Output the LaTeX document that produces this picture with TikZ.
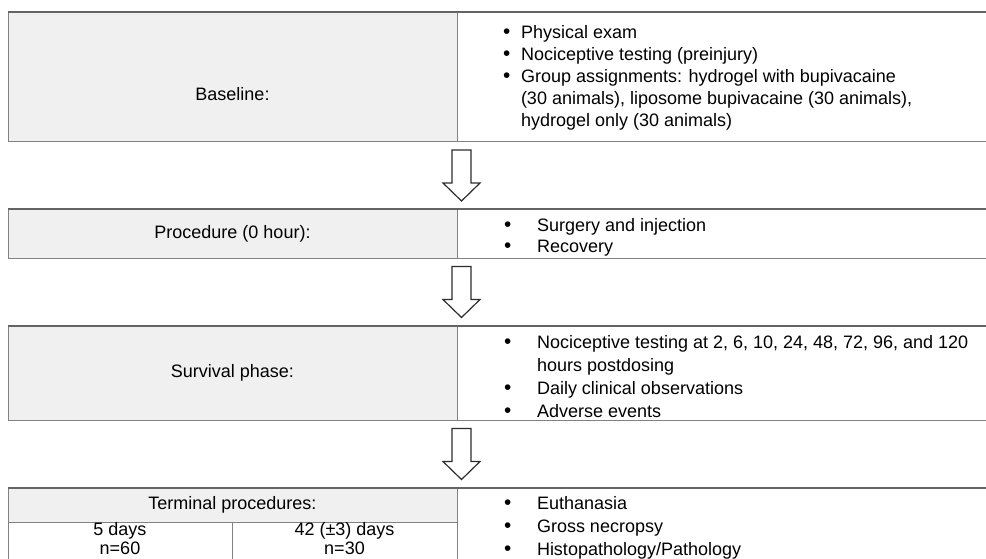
\documentclass[tikz,border=0pt]{standalone}
\usepackage{fontspec}
\setmainfont{Liberation Sans}
\usetikzlibrary{positioning,calc}
\definecolor{rulegray}{RGB}{130,130,130}
\definecolor{topgray}{RGB}{100,100,100}
\definecolor{cellgray}{RGB}{240,240,240}
\definecolor{arrowgray}{RGB}{45,45,45}
\newcommand{\dotitem}{\scalebox{1.15}{\textbullet}}

\begin{document}
\begin{tikzpicture}[x=1pt,y=-1pt,every node/.style={font=\fontsize{18}{22}\selectfont, inner sep=0pt, outer sep=0pt},cell/.style={draw=rulegray, line width=1pt, anchor=north west},phase/.style={cell, fill=cellgray, minimum width=449},steps/.style={cell, fill=white, minimum width=540},items/.style={anchor=north west, align=left},toprule/.style={draw=topgray, line width=1.4pt},openarrow/.pic={\draw[arrowgray, line width=1.2pt, fill=white, line join=miter] (-9.5,-25.5) -- (9.5,-25.5) -- (9.5,7.5) -- (18.5,7.5) -- (0,25.5) -- (-18.5,7.5) -- (-9.5,7.5) -- cycle;}]
\clip (0,0) rectangle (986,559);
\node[phase, minimum height=130] (baseL) at (8,12) {};
\node[steps, minimum height=130] (baseR) at (baseL.north east) {};
\draw[toprule] (baseL.north west) -- (baseR.north east);
\node (baseT) at (232.5,94) {Baseline:};
\node[items] (baseI) at (503,23) {\begin{tabular}{@{}p{18pt}@{}l@{}}
\dotitem & Physical exam\\
\dotitem & Nociceptive testing (preinjury)\\
\dotitem & Group assignments: hydrogel with bupivacaine\\
 & (30 animals), liposome bupivacaine (30 animals),\\
 & hydrogel only (30 animals)
\end{tabular}};
\node[phase, minimum height=49] (procL) at (8,209) {Procedure (0 hour):};
\node[steps, minimum height=49] (procR) at (procL.north east) {};
\draw[toprule] (procL.north west) -- (procR.north east);
\node[items, font=\fontsize{18}{20}\selectfont] (procI) at (504,218) {\begin{tabular}{@{}p{33pt}@{}l@{}}
\dotitem & Surgery and injection\\
\dotitem & Recovery
\end{tabular}};
\node[phase, minimum height=94] (survL) at (8,326) {Survival phase:};
\node[steps, minimum height=94] (survR) at (survL.north east) {};
\draw[toprule] (survL.north west) -- (survR.north east);
\node[items, font=\fontsize{18}{23}\selectfont] (survI) at (504,332) {\begin{tabular}{@{}p{33pt}@{}l@{}}
\dotitem & Nociceptive testing at 2, 6, 10, 24, 48, 72, 96, and 120\\
 & hours postdosing\\
\dotitem & Daily clinical observations\\
\dotitem & Adverse events
\end{tabular}};
\node[phase, minimum height=34] (termL) at (8,488) {Terminal procedures:};
\node[cell, fill=white, minimum width=224, minimum height=50] (fiveL) at (termL.south west) {};
\node[cell, fill=white, minimum width=225, minimum height=50] (fortyL) at (fiveL.north east) {};
\node[align=center, font=\fontsize{18}{19}\selectfont] (fiveT) at (120,539) {5 days\\n=60};
\node[align=center, font=\fontsize{18}{19}\selectfont] (fortyT) at (344.5,539) {42 (±3) days\\n=30};
\node[steps, minimum height=85] (termR) at (termL.north east) {};
\draw[toprule] (termL.north west) -- (termR.north east);
\node[items, font=\fontsize{18}{23}\selectfont] (termI) at (504,493) {\begin{tabular}{@{}p{33pt}@{}l@{}}
\dotitem & Euthanasia\\
\dotitem & Gross necropsy\\
\dotitem & Histopathology/Pathology
\end{tabular}};
\pic at ($(baseL.south east)!.5!(procL.north east)+(4.5,0)$) {openarrow};
\pic at ($(procL.south east)!.5!(survL.north east)+(4.5,0)$) {openarrow};
\pic at ($(survL.south east)!.5!(termL.north east)+(4.5,0)$) {openarrow};
\end{tikzpicture}
\end{document}
